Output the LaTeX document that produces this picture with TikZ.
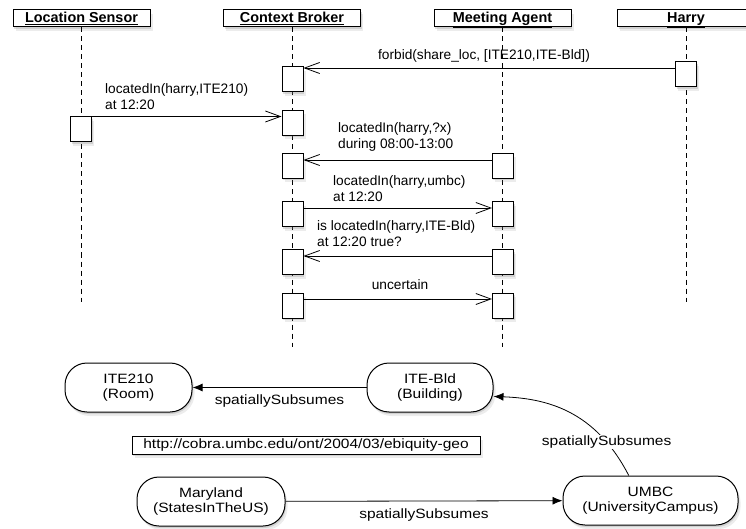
\documentclass[tikz,border=0pt]{standalone}
\usepackage{fontspec}
\setmainfont{Liberation Sans}
\newfontfamily\geofont[FakeStretch=1.15]{Liberation Sans}
\usetikzlibrary{arrows.meta,shadows}
\begin{document}
\begin{tikzpicture}[x=1pt,y=-1pt,
  boxshadow/.style={drop shadow={shadow xshift=1pt,shadow yshift=-2pt,opacity=.25},
                    drop shadow={shadow xshift=2.5pt,shadow yshift=-4pt,opacity=.15}},
  actor/.style={draw,line width=1pt,fill=white,boxshadow,minimum width=137pt,inner xsep=0pt,inner ysep=1.5pt,
                text height=11pt,text depth=3pt,font=\fontsize{14.4}{16}\selectfont\bfseries},
  act/.style={draw,line width=1pt,fill=white,boxshadow,minimum width=21pt,minimum height=25pt,inner sep=0pt},
  life/.style={line width=0.8pt,dash pattern=on 5pt off 4pt},
  msg/.style={line width=0.8pt,-{Straight Barb[length=15pt,width=11pt,line width=0.8pt]}},
  txt/.style={font=\fontsize{13.7}{16}\selectfont,align=left,inner sep=0pt},
  geo/.style={draw,line width=1pt,fill=white,boxshadow,rounded corners=22pt,minimum height=49pt,inner xsep=2pt,
              align=center,font=\geofont\fontsize{13.5}{15}\selectfont},
  sub/.style={line width=0.8pt,-{Latex[length=10pt,width=8pt]}},
  sublbl/.style={font=\geofont\fontsize{13.5}{15}\selectfont,fill=white,inner sep=1pt}]
\useasboundingbox (0,0) rectangle (746,529);
% actors
\node[actor] (ls) at (81.5,18.5) {\underline{Location Sensor}};
\node[actor] (cb) at (292,18.5) {\underline{Context Broker}};
\node[actor] (ma) at (502.5,18.5) {\underline{Meeting Agent}};
\node[actor] (harry) at (686,18.5) {\underline{Harry}};
% lifelines
\coordinate (lsEnd) at (81.5,302);
\coordinate (cbEnd) at (292,347);
\coordinate (maEnd) at (502.5,347);
\coordinate (harryEnd) at (686,302);
\draw[life] (ls.south) -- (lsEnd);
\draw[life] (cb.south) -- (cbEnd);
\draw[life] (ma.south) -- (maEnd);
\draw[life] (harry.south) -- (harryEnd);
% activations
\node[act] (hA) at (686,74.5) {};
\node[act] (cbA) at (292.5,79.5) {};
\node[act] (lsA) at (81,129.5) {};
\node[act] (cbB) at (292.5,123) {};
\node[act] (cbC) at (292.5,166) {};
\node[act] (maC) at (502.5,166) {};
\node[act] (cbD) at (292.5,214.5) {};
\node[act] (maD) at (503,214.5) {};
\node[act] (cbE) at (292.5,262) {};
\node[act] (maE) at (503,262) {};
\node[act] (cbF) at (292.5,305.5) {};
\node[act] (maF) at (503,305.5) {};
% messages
\draw[msg] ([yshift=6.5pt]hA.west) -- ([yshift=6.5pt]hA.west -| cbA.east);
\draw[msg] (lsA.north east) -- (lsA.north east -| cbB.west);
\draw[msg] ([yshift=6pt]maC.west) -- ([yshift=6pt]maC.west -| cbC.east);
\draw[msg] ([yshift=6.5pt]cbD.east) -- ([yshift=6.5pt]cbD.east -| maD.west);
\draw[msg] ([yshift=6pt]maE.west) -- ([yshift=6pt]maE.west -| cbE.east);
\draw[msg] ([yshift=6.5pt]cbF.east) -- ([yshift=6.5pt]cbF.east -| maF.west);
\node[txt] (forbid) at (484,56) {forbid(share\_loc, [ITE210,ITE-Bld])};
\node[txt,anchor=west] (sensed) at (105,97) {locatedIn(harry,ITE210)\\at 12:20};
\node[txt,anchor=west] (query) at (338,137) {locatedIn(harry,?x)\\during 08:00-13:00};
\node[txt,anchor=west] (answer) at (333,188.5) {locatedIn(harry,umbc)\\at 12:20};
\node[txt,anchor=west] (ask) at (317,234) {is locatedIn(harry,ITE-Bld)\\at 12:20 true?};
\node[txt] (reply) at (400,285) {uncertain};
% ontology
\node[geo,minimum width=127pt] (ite210) at (128.5,387.5) {ITE210\\(Room)};
\node[geo,minimum width=126pt] (itebld) at (430,387.5) {ITE-Bld\\(Building)};
\node[draw,line width=1pt,fill=white,boxshadow,minimum width=348pt,minimum height=18pt,inner sep=0pt,
      font=\geofont\fontsize{13.5}{15}\selectfont] (url) at (306,445) {http://cobra.umbc.edu/ont/2004/03/ebiquity-geo};
\node[geo,minimum width=148pt] (maryland) at (211,501.5) {Maryland\\(StatesInTheUS)};
\node[geo,minimum width=175pt] (umbc) at (650.5,500.5) {UMBC\\(UniversityCampus)};
\draw[sub] (itebld) -- node[sublbl,below=6pt] (subA) {spatiallySubsumes} (ite210);
\draw[sub] (maryland) -- node[sublbl,below=6pt] (subB) {spatiallySubsumes} (umbc);
\draw[sub] (umbc.131) .. controls +(-34,-66) and +(52,2) .. (itebld.-8)
  node[sublbl,pos=0.2] (subC) {spatiallySubsumes};
\end{tikzpicture}
\end{document}
